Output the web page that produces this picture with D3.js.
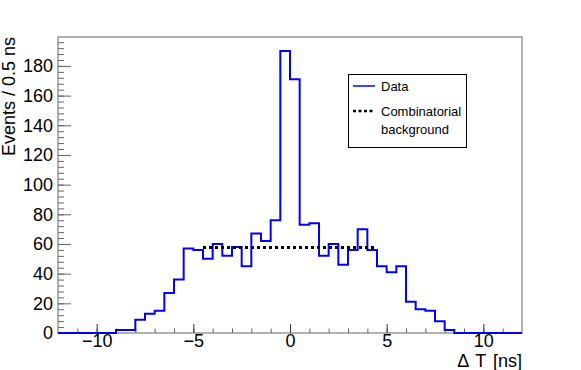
<!DOCTYPE html>
<html>
<head>
<meta charset="utf-8">
<script src="https://cdn.jsdelivr.net/npm/d3@7"></script>
<style>
  body { margin: 0; background: #fff; }
  text { font-family: "Liberation Sans", Arial, Helvetica, sans-serif; }
</style>
</head>
<body>
<script>
// histogram bins: low edge of each 0.5 ns bin
var binLow = [-12, -11.5, -11, -10.5, -10, -9.5, -9, -8.5, -8, -7.5, -7, -6.5,
              -6, -5.5, -5, -4.5, -4, -3.5, -3, -2.5, -2, -1.5, -1, -0.5,
              0, 0.5, 1, 1.5, 2, 2.5, 3, 3.5, 4, 4.5, 5, 5.5,
              6, 6.5, 7, 7.5, 8, 8.5, 9, 9.5, 10, 10.5, 11, 11.5];
var binWidth = 0.5;
var counts = [0, 0, 0, 0, 0, 0, 2, 2, 9, 13, 15, 27,
              36, 57, 56, 50, 60, 52, 58, 45, 67, 62, 76, 190,
              171, 73, 74, 52, 60, 46, 56, 70, 56, 45, 41, 45,
              21, 16, 15, 8, 2, 0, 0, 0, 0, 0, 0, 0];

// flat combinatorial background estimate
var bkgRange = [-4.5, 4.5];
var bkgLevel = 57.7;

var xMajor = [-10, -5, 0, 5, 10];
var yMajor = [0, 20, 40, 60, 80, 100, 120, 140, 160, 180];

var svg = d3.select("body").append("svg").attr("width", 581).attr("height", 370),
    margin = {top: 37, right: 59, bottom: 37, left: 58},
    width = +svg.attr("width") - margin.left - margin.right,
    height = +svg.attr("height") - margin.top - margin.bottom;

var x = d3.scaleLinear().domain([-12, 12]).range([0, width]),
    y = d3.scaleLinear().domain([0, 199.5]).range([height, 0]);

var g = svg.append("g")
    .attr("transform", "translate(" + margin.left + "," + margin.top + ")");

var axisColor = "#666";

// minor ticks
g.append("g")
    .attr("transform", "translate(0," + height + ")")
    .call(d3.axisBottom(x).tickValues(d3.range(-11, 12, 1)).tickSize(-4.5).tickFormat(""))
    .call(function(s) { s.select(".domain").remove(); s.selectAll("line").attr("stroke", axisColor); });

g.append("g")
    .call(d3.axisLeft(y).tickValues(d3.range(4, 200, 4)).tickSize(-6).tickFormat(""))
    .call(function(s) { s.select(".domain").remove(); s.selectAll("line").attr("stroke", axisColor); });

// major ticks + labels
g.append("g")
    .attr("transform", "translate(0," + height + ")")
    .call(d3.axisBottom(x).tickValues(xMajor).tickSize(-9).tickPadding(1))
    .call(function(s) {
      s.select(".domain").remove();
      s.selectAll("line").attr("stroke", "#333");
      s.selectAll("text").attr("font-size", 18).attr("fill", "#000")
        .attr("font-family", "Liberation Sans, Arial, sans-serif");
    });

g.append("g")
    .call(d3.axisLeft(y).tickValues(yMajor).tickSize(-13).tickPadding(5))
    .call(function(s) {
      s.select(".domain").remove();
      s.selectAll("line").attr("stroke", axisColor);
      s.selectAll("text").attr("font-size", 18).attr("fill", "#000")
        .attr("font-family", "Liberation Sans, Arial, sans-serif");
    });

// frame
g.append("rect")
    .attr("width", width).attr("height", height)
    .attr("fill", "none").attr("stroke", axisColor).attr("stroke-width", 1);

// histogram as steps
var pts = binLow.map(function(d, i) { return [d, counts[i]]; });
pts.push([binLow[binLow.length - 1] + binWidth, counts[counts.length - 1]]);

var step = d3.line()
    .x(function(d) { return x(d[0]); })
    .y(function(d) { return y(d[1]); })
    .curve(d3.curveStepAfter);

g.append("path")
    .datum(pts)
    .attr("fill", "none")
    .attr("stroke", "#0000ff")
    .attr("stroke-width", 2)
    .attr("d", step);

// background line
g.append("line")
    .attr("x1", x(bkgRange[0])).attr("x2", x(bkgRange[1]))
    .attr("y1", y(bkgLevel)).attr("y2", y(bkgLevel))
    .attr("stroke", "#000").attr("stroke-width", 3)
    .attr("stroke-dasharray", "3,3");

// axis titles
svg.append("text")
    .attr("transform", "translate(15," + margin.top + ") rotate(-90)")
    .attr("text-anchor", "end")
    .attr("font-size", 18)
    .text("Events / 0.5 ns");

svg.append("text")
    .attr("x", margin.left + width)
    .attr("y", 367)
    .attr("text-anchor", "end")
    .attr("font-size", 18)
    .attr("word-spacing", 2)
    .text("\u0394 T [ns]");

// legend
var leg = svg.append("g");
leg.append("rect")
    .attr("x", 348.5).attr("y", 74.5).attr("width", 118).attr("height", 73)
    .attr("fill", "#fff").attr("stroke", "#000").attr("stroke-width", 1);
leg.append("line")
    .attr("x1", 353).attr("x2", 375).attr("y1", 86).attr("y2", 86)
    .attr("stroke", "#0000ff").attr("stroke-width", 1.5);
leg.append("text").attr("x", 381).attr("y", 91).attr("font-size", 13).text("Data");
leg.append("line")
    .attr("x1", 353).attr("x2", 375).attr("y1", 111).attr("y2", 111)
    .attr("stroke", "#000").attr("stroke-width", 2.5)
    .attr("stroke-dasharray", "3,2.5");
leg.append("text").attr("x", 381).attr("y", 116).attr("font-size", 13).text("Combinatorial");
leg.append("text").attr("x", 381).attr("y", 134).attr("font-size", 13).text("background");
</script>
</body>
</html>
